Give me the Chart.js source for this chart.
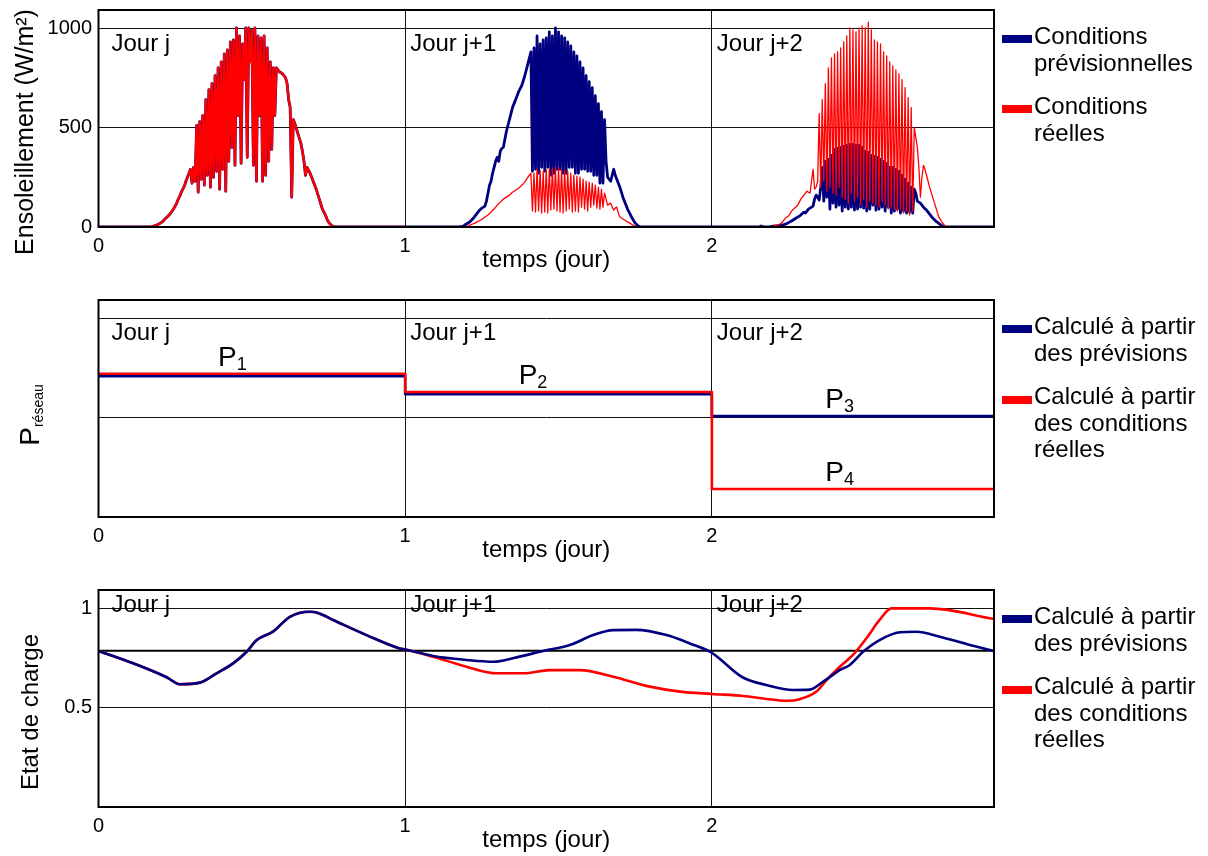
<!DOCTYPE html>
<html>
<head>
<meta charset="utf-8">
<script src="https://cdn.jsdelivr.net/npm/chart.js@4.4.1/dist/chart.umd.min.js"></script>
<style>
  body { margin: 0; background: #fff; }
  #page { position: relative; width: 1208px; height: 856px; overflow: hidden; background: #fff; }
  canvas { position: absolute; left: 0; }
  .leg { position: absolute; left: 1002px; padding-left: 32px; color: #000;
         font: 24px/26.7px "Liberation Sans", Arial, sans-serif; white-space: nowrap; }
  .mk { position: absolute; left: 0; top: 12px; width: 30px; height: 8px; }
</style>
</head>
<body>
<div id="page">
  <canvas id="sun" width="1208" height="290" style="top:0px"></canvas>
  <canvas id="grid" width="1208" height="290" style="top:290px"></canvas>
  <canvas id="soc" width="1208" height="276" style="top:580px"></canvas>

  <div class="leg" style="top:23px"><span class="mk" style="background:#000080"></span>Conditions<br>prévisionnelles</div>
  <div class="leg" style="top:93px"><span class="mk" style="background:#ff0000"></span>Conditions<br>réelles</div>

  <div class="leg" style="top:313px"><span class="mk" style="background:#000080"></span>Calculé à partir<br>des prévisions</div>
  <div class="leg" style="top:383px"><span class="mk" style="background:#ff0000;top:13px"></span>Calculé à partir<br>des conditions<br>réelles</div>

  <div class="leg" style="top:603px"><span class="mk" style="background:#000080"></span>Calculé à partir<br>des prévisions</div>
  <div class="leg" style="top:673px"><span class="mk" style="background:#ff0000;top:13px"></span>Calculé à partir<br>des conditions<br>réelles</div>
</div>

<script>
'use strict'

// ---- axes ----
const tMax = 2.92;
const dayTicks = [0, 1, 2];
const sunTicks = [0, 500, 1000];
const socTicks = [0, 0.5, 1];
const jourLabels = ['Jour j', 'Jour j+1', 'Jour j+2'];
const jourT = [0, 1, 2];

// ---- ensoleillement (W/m²), one value every 0.005 day from day + 0.15 to day + 0.82 ----
const sunStart = 0.15, sunStep = 0.005;
const irrJour = [
  0, 0, 0, 0, 0, 2, 4, 7, 10, 14, 18, 23, 28, 38, 45, 52, 60, 70, 80, 92, 105, 120, 140, 155,
  175, 190, 205, 230, 250, 270, 290, 220, 300, 230,
  510, 175, 530, 240, 560, 210, 640, 260, 690, 200, 720, 250, 760, 280, 800, 190, 830, 290,
  870, 180, 890, 330, 930, 400, 940, 310, 1000, 560, 960, 320, 920, 740, 1000, 350, 1000, 830,
  990, 310, 1000, 230, 960, 560, 950, 230, 960, 260, 900, 330, 830, 390, 800, 560,
  800, 790, 780, 775, 770, 760, 750, 720, 640, 600, 150, 540, 520, 495, 470, 445, 420, 380,
  330, 260, 300, 285, 270, 250, 230, 210, 190, 165, 140, 115, 90, 75, 60, 40, 25, 15, 8, 3, 0,
  0, 0, 0, 0, 0, 0, 0, 0, 0, 0];
const irrPrev1 = [
  0, 0, 0, 0, 0, 1, 2, 3, 5, 10, 15, 20, 25, 32, 40, 50, 60, 70, 80, 88, 95, 100, 105, 130,
  170, 210, 230, 270, 300, 330, 350, 330, 380, 395, 400, 440, 480, 510, 540, 570, 600, 620,
  640, 660, 680, 695, 710, 735, 760, 790, 820, 850, 880,
  280, 900, 290, 960, 270, 920, 300, 940, 280, 950, 300, 980, 260, 960, 270, 1000, 290, 980,
  290, 960, 270, 950, 270, 930, 300, 910, 300, 880, 270, 860, 270, 830, 290, 800, 290, 760,
  280, 730, 280, 700, 260, 660, 260, 620, 220, 580, 220,
  540, 330, 250, 240, 230, 260, 290, 260, 240, 220, 200, 175, 150, 130, 110, 90, 75, 60, 45,
  32, 20, 12, 5, 2, 0, 0, 0, 0, 0, 0, 0, 0, 0, 0, 0];
const irrReel1 = [
  0, 0, 0, 0, 0, 0, 0, 0, 0, 1, 3, 5, 8, 12, 15, 18, 22, 26, 30, 34, 38, 44, 50, 55, 60, 68,
  75, 85, 90, 100, 110, 118, 125, 132, 140, 145, 150, 155, 160, 168, 175, 180, 185, 190, 195,
  202, 210, 218, 225, 238, 250, 260, 270,
  80, 270, 75, 290, 80, 285, 70, 280, 75, 290, 70, 290, 85, 295, 90, 300, 80, 295, 75, 290,
  70, 285, 80, 280, 90, 270, 75, 260, 80, 255, 75, 250, 100, 240, 90, 230, 80, 225, 100, 220,
  110, 210, 95, 200, 90, 190, 100,
  170, 140, 110, 115, 120, 100, 85, 95, 100, 70, 50, 45, 40, 35, 30, 26, 22, 17, 12, 8, 4, 2,
  0, 0, 0, 0, 0, 0, 0, 0, 0, 0, 0, 0, 0];
const irrPrev2 = [
  0, 0, 5, 3, 0, 0, 0, 0, 2, 3, 4, 5, 6, 7, 8, 9, 10, 12, 14, 18, 22, 26, 30, 35, 40, 45, 50,
  55, 60, 68, 75, 70, 80, 90, 95, 100, 105, 140, 160, 150, 135, 200,
  300, 130, 330, 150, 340, 90, 360, 120, 390, 100, 395, 110, 400, 80, 405, 100, 410, 90, 415,
  100, 415, 85, 410, 90, 410, 100, 400, 95, 380, 80, 375, 90, 360, 110, 355, 85, 350, 90, 340,
  100, 330, 80, 320, 100, 300, 70, 300, 80, 290, 90, 280, 70, 260, 80, 240, 70, 220, 75, 200,
  70,
  190, 170, 130, 125, 120, 110, 100, 92, 85, 75, 65, 55, 45, 38, 30, 24, 18, 12, 6, 3, 0,
  0, 0, 0, 0, 0, 0, 0, 0, 0, 0, 0, 0];
const irrReel2 = [
  0, 0, 5, 3, 0, 0, 0, 0, 0, 2, 4, 6, 8, 10, 12, 18, 25, 35, 45, 50, 55, 68, 80, 88, 95, 102,
  110, 125, 140, 150, 160, 170, 180, 175, 170, 230,
  290, 190, 200, 230, 570, 200, 640, 230, 720, 180, 800, 200, 850, 170, 870, 160, 880, 200,
  900, 150, 930, 140, 960, 120, 1000, 170, 990, 130, 980, 150, 1000, 110, 1010, 140, 1000, 100,
  1030, 130, 990, 120, 940, 110, 930, 100, 920, 130, 880, 110, 860, 90, 830, 100, 810, 90, 790,
  80, 770, 90, 740, 70, 700, 80, 650, 60, 600, 80,
  500, 450, 400, 300, 150, 250, 310, 290, 260, 230, 200, 175, 150, 125, 100, 75, 50, 38, 25,
  15, 5, 2, 0, 0, 0, 0, 0, 0, 0, 0, 0, 0, 0];

// ---- P réseau (each value held until the next time) ----
const pT = [0, 1, 2, 2.92];
const pPrev = [0.708, 0.617, 0.507, 0.507];
const pReel = [0.72, 0.628, 0.141, 0.141];
const pLabelT = [0.39, 1.37, 2.37, 2.37];
const pLabelV = [pReel[0], pReel[1], pPrev[2], pReel[2]];
const pLabelSub = ['1', '2', '3', '4'];

// ---- état de charge ----
const socRef = 0.785;
const socTPrev = [0, 0.113, 0.222, 0.265, 0.33, 0.385, 0.439, 0.483, 0.516, 0.569, 0.624,
  0.689, 0.711, 0.765, 0.874, 0.982, 1.0, 1.091, 1.2, 1.287, 1.363, 1.45, 1.537, 1.613, 1.678,
  1.754, 1.852, 1.928, 2.0, 2.1, 2.178, 2.265, 2.319, 2.363, 2.417, 2.45, 2.493, 2.547, 2.613,
  2.667, 2.743, 2.83, 2.92];
const socPrev = [0.784, 0.722, 0.652, 0.617, 0.625, 0.672, 0.722, 0.78, 0.839, 0.881, 0.956,
  0.981, 0.978, 0.94, 0.864, 0.797, 0.792, 0.759, 0.739, 0.73, 0.752, 0.784, 0.814, 0.864,
  0.889, 0.89, 0.864, 0.822, 0.775, 0.652, 0.613, 0.588, 0.59, 0.63, 0.688, 0.714, 0.78,
  0.839, 0.878, 0.881, 0.856, 0.819, 0.784];
const socTReel = [0, 0.113, 0.222, 0.265, 0.33, 0.385, 0.439, 0.483, 0.516, 0.569, 0.624,
  0.689, 0.711, 0.765, 0.874, 0.982, 1.0, 1.091, 1.2, 1.298, 1.385, 1.471, 1.569, 1.678,
  1.798, 1.896, 2.0, 2.102, 2.178, 2.243, 2.287, 2.341, 2.374, 2.417, 2.46, 2.504, 2.547,
  2.586, 2.711, 2.92];
const socReel = [0.784, 0.722, 0.652, 0.617, 0.625, 0.672, 0.722, 0.78, 0.839, 0.881, 0.956,
  0.981, 0.978, 0.94, 0.864, 0.797, 0.792, 0.755, 0.705, 0.672, 0.672, 0.688, 0.688, 0.655,
  0.605, 0.58, 0.568, 0.558, 0.543, 0.534, 0.542, 0.58, 0.638, 0.705, 0.764, 0.848, 0.94,
  0.998, 0.998, 0.945];

const BLUE = '#000080';
const RED = '#ff0000';
const FONT = '"Liberation Sans", Arial, sans-serif';

// one day of irradiance, with zero at both ends of the day
function sunDay(vals, d) {
    let pts = [{x: d, y: 0}];
    vals.forEach((v, i) => {
        pts.push({x: Math.round((d + sunStart + i * sunStep) * 1000) / 1000, y: v});
    });
    pts.push({x: Math.min(d + 1, tMax), y: 0});
    return pts;
}

function zip(xs, ys) {
    return xs.map((x, i) => ({x: x, y: ys[i]}));
}

// titles, day labels, P labels and the frame
const decor = {
    id: 'decor',
    afterDatasetsDraw(chart, args, o) {
        const ctx = chart.ctx;
        const a = chart.chartArea;
        const xs = chart.scales.x, ys = chart.scales.y;
        ctx.save();
        ctx.strokeStyle = '#000';
        ctx.lineWidth = 2;
        ctx.strokeRect(a.left, a.top, a.right - a.left, a.bottom - a.top);

        ctx.fillStyle = '#000';
        ctx.textBaseline = 'alphabetic';
        ctx.font = '24px ' + FONT;
        ctx.textAlign = 'left';
        const dx = [13, 5, 5];
        jourLabels.forEach((txt, i) => {
            ctx.fillText(txt, xs.getPixelForValue(jourT[i]) + dx[i], o.jourY);
        });

        ctx.textAlign = 'center';
        ctx.fillText('temps (jour)', (a.left + a.right) / 2, 267);

        // y title, rotated
        ctx.save();
        ctx.translate(o.yX, o.yY);
        ctx.rotate(-Math.PI / 2);
        if (o.ySub) {
            ctx.font = '28px ' + FONT;
            const w1 = ctx.measureText(o.yTitle).width;
            ctx.font = '14px ' + FONT;
            const w2 = ctx.measureText(o.ySub).width;
            ctx.textAlign = 'left';
            ctx.font = '28px ' + FONT;
            ctx.fillText(o.yTitle, -(w1 + w2) / 2, 0);
            ctx.font = '14px ' + FONT;
            ctx.fillText(o.ySub, -(w1 + w2) / 2 + w1, 4);
        } else {
            ctx.font = o.ySize + 'px ' + FONT;
            ctx.fillText(o.yTitle, 0, 0);
        }
        ctx.restore();

        if (o.pLabels) {
            ctx.textAlign = 'left';
            pLabelT.forEach((t, i) => {
                const px = xs.getPixelForValue(t);
                const py = ys.getPixelForValue(pLabelV[i]) - 8;
                ctx.font = '28px ' + FONT;
                ctx.fillText('P', px, py);
                const w = ctx.measureText('P').width;
                ctx.font = '18px ' + FONT;
                ctx.fillText(pLabelSub[i], px + w, py + 4);
            });
        }
        ctx.restore();
    }
};

// Chart.js draws the first dataset on top
function makeChart(id, h, datasets, yMax, yTicks, yLabel, deco) {
    const ctx = document.getElementById(id).getContext('2d');
    return new Chart(ctx, {
        type: 'line',
        data: { datasets: datasets },
        plugins: [decor],
        options: {
            responsive: false,
            animation: false,
            devicePixelRatio: 1,
            layout: { padding: { left: 0, right: 214, top: 10, bottom: 0 } },
            elements: { point: { radius: 0 }, line: { borderJoinStyle: 'round' } },
            plugins: { legend: { display: false }, tooltip: { enabled: false }, decor: deco },
            scales: {
                x: {
                    type: 'linear', min: 0, max: tMax,
                    afterBuildTicks: s => { s.ticks = dayTicks.map(v => ({value: v})); },
                    afterFit: s => { s.height = h - 227; s.paddingLeft = 0; s.paddingRight = 0; },
                    grid: { color: '#111', lineWidth: 1, drawTicks: false },
                    border: { display: false },
                    ticks: { padding: 7, color: '#000', maxRotation: 0,
                             font: { size: 20, family: FONT }, callback: v => String(v) }
                },
                y: {
                    type: 'linear', min: 0, max: yMax,
                    afterBuildTicks: s => { s.ticks = yTicks.map(v => ({value: v})); },
                    afterFit: s => { s.width = 98.5; s.paddingTop = 0; s.paddingBottom = 0; },
                    grid: { color: '#111', lineWidth: 1, drawTicks: false },
                    border: { display: false },
                    ticks: { padding: 6.5, color: '#000',
                             font: { size: 20, family: FONT }, callback: yLabel }
                }
            }
        }
    });
}

// panel 1 : ensoleillement
makeChart('sun', 290, [
    { data: sunDay(irrJour, 0), borderColor: RED, borderWidth: 2.4 },
    { data: sunDay(irrReel1, 1).concat(sunDay(irrReel2, 2)), borderColor: RED, borderWidth: 1.3 },
    { data: sunDay(irrJour, 0).concat(sunDay(irrPrev1, 1), sunDay(irrPrev2, 2)),
      borderColor: BLUE, borderWidth: 2.8 }
], 1090.5, sunTicks, v => String(v),
   { jourY: 50.5, yTitle: 'Ensoleillement (W/m²)', ySize: 25, yX: 33, yY: 132 });

// panel 2 : P réseau
makeChart('grid', 290, [
    { data: zip(pT, pReel), borderColor: RED, borderWidth: 2.6, stepped: true },
    { data: zip(pT, pPrev), borderColor: BLUE, borderWidth: 2.6, stepped: true }
], 1.0905, socTicks, () => '',
   { jourY: 50, yTitle: 'P', ySub: 'réseau', yX: 39, yY: 125, pLabels: true });

// panel 3 : état de charge
makeChart('soc', 276, [
    { data: zip(socTPrev, socPrev), borderColor: BLUE, borderWidth: 2.6, cubicInterpolationMode: 'monotone' },
    { data: zip(socTReel, socReel), borderColor: RED, borderWidth: 2.6, cubicInterpolationMode: 'monotone' },
    { data: [{x: 0, y: socRef}, {x: tMax, y: socRef}], borderColor: '#000', borderWidth: 2 }
], 1.0905, socTicks, v => v === 0 ? '' : String(v),
   { jourY: 32, yTitle: 'Etat de charge', ySize: 24, yX: 37.5, yY: 132 });
</script>
</body>
</html>
